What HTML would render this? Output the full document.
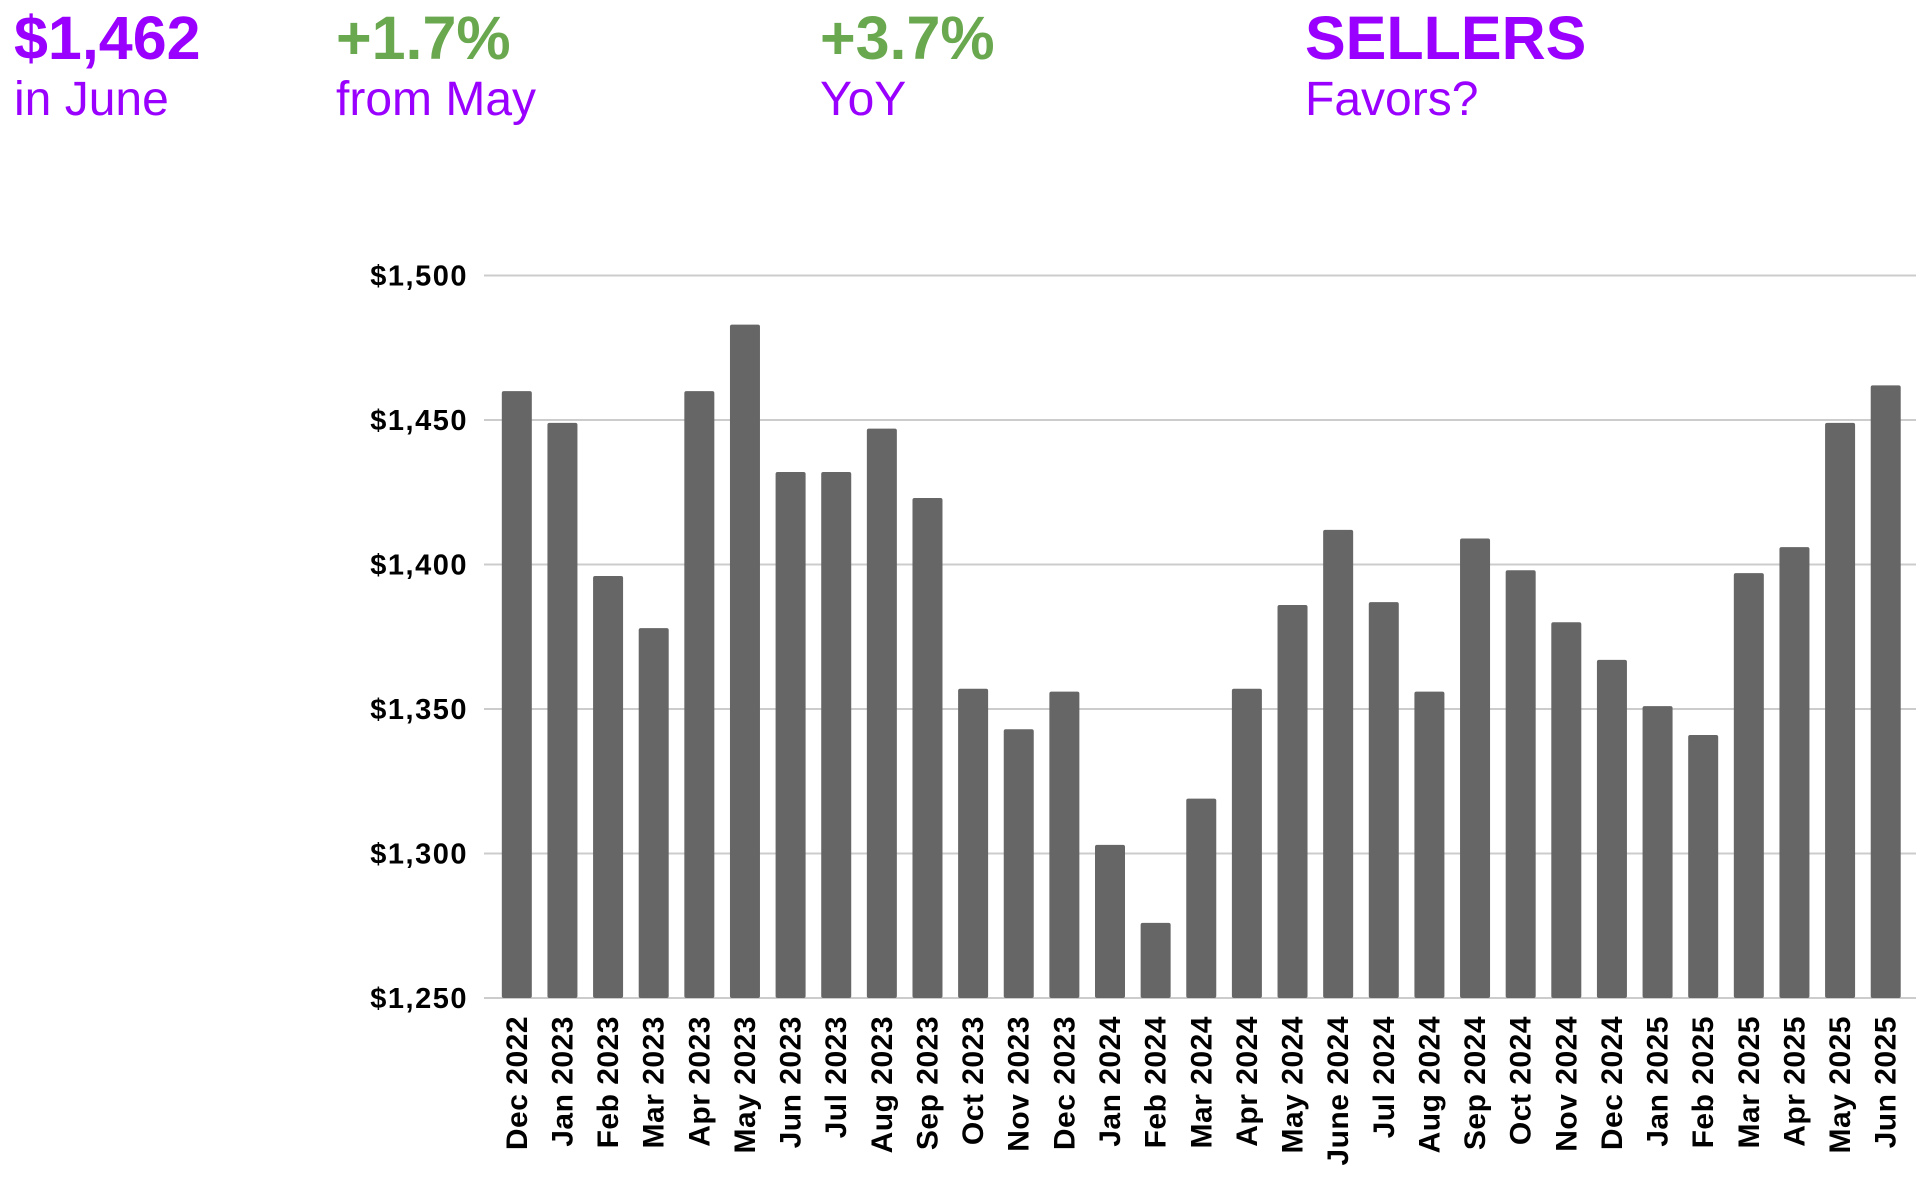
<!DOCTYPE html>
<html><head><meta charset="utf-8"><style>
body{margin:0;width:1920px;height:1185px;background:#fff;overflow:hidden;font-family:"Liberation Sans",sans-serif}
.h{position:absolute;line-height:1}
.big{font-weight:bold;font-size:61px}
.sm{font-size:48px;color:#9900ff}
</style></head><body>
<div class="h big" style="left:14px;top:8px;color:#9900ff">$1,462</div>
<div class="h sm" style="left:14px;top:76px">in June</div>
<div class="h big" style="left:336px;top:8px;color:#6aa84f">+1.7%</div>
<div class="h sm" style="left:336px;top:76px">from May</div>
<div class="h big" style="left:820px;top:8px;color:#6aa84f">+3.7%</div>
<div class="h sm" style="left:820px;top:76px">YoY</div>
<div class="h big" style="left:1305px;top:8px;color:#9900ff">SELLERS</div>
<div class="h sm" style="left:1305px;top:76px">Favors?</div>
<svg id="chart" width="1920" height="1185" style="position:absolute;left:0;top:0"></svg>
<script>
const categories=["Dec 2022","Jan 2023","Feb 2023","Mar 2023","Apr 2023","May 2023","Jun 2023","Jul 2023","Aug 2023","Sep 2023","Oct 2023","Nov 2023","Dec 2023","Jan 2024","Feb 2024","Mar 2024","Apr 2024","May 2024","June 2024","Jul 2024","Aug 2024","Sep 2024","Oct 2024","Nov 2024","Dec 2024","Jan 2025","Feb 2025","Mar 2025","Apr 2025","May 2025","Jun 2025"];
const values=[1460,1449,1396,1378,1460,1483,1432,1432,1447,1423,1357,1343,1356,1303,1276,1319,1357,1386,1412,1387,1356,1409,1398,1380,1367,1351,1341,1397,1406,1449,1462];
const ticks=[1250,1300,1350,1400,1450,1500];
const tickLabels=["$1,250","$1,300","$1,350","$1,400","$1,450","$1,500"];
const NS="http://www.w3.org/2000/svg";
const svg=document.getElementById('chart');
const yMin=1250,yMax=1500,yBot=998,yTop=275.5;
const y=v=>yBot-(v-yMin)/(yMax-yMin)*(yBot-yTop);
const left=494,band=45.63,bw=30;
const x=i=>left+(i+0.5)*band;
function mk(t,a){const e=document.createElementNS(NS,t);for(const k in a)e.setAttribute(k,a[k]);svg.appendChild(e);return e;}
ticks.forEach((t,i)=>{
 const g=mk('line',{x1:484,x2:1916,y1:y(t),y2:y(t),stroke:'#cccccc','stroke-width':2});
 
 
 const l=mk('text',{x:468,y:y(t)+10,'text-anchor':'end','font-size':29,'letter-spacing':1.5,'font-weight':'bold','font-family':'Liberation Sans, sans-serif',fill:'#000'});
 l.textContent=tickLabels[i];
 
 
});
values.forEach((v,i)=>{
 const r=mk('rect',{x:x(i)-bw/2,y:y(v),width:bw,height:yBot-y(v),fill:'#666666',rx:2});
 
 
 const t=mk('text',{transform:`translate(${x(i)+10},1016) rotate(-90)`,'text-anchor':'end','font-size':30,'letter-spacing':0.5,'font-weight':'bold','font-family':'Liberation Sans, sans-serif',fill:'#000'});
 t.textContent=categories[i];
 
 
});
</script>
</body></html>
